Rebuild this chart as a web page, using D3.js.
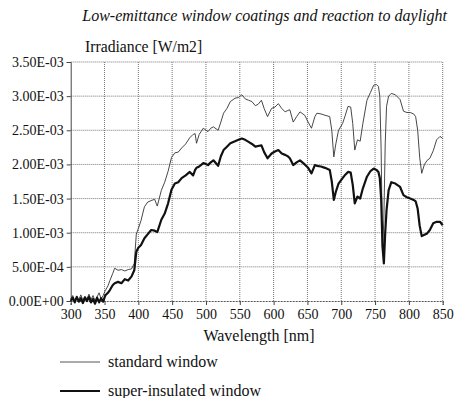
<!DOCTYPE html>
<html><head><meta charset="utf-8">
<script src="https://cdn.jsdelivr.net/npm/d3@7"></script>
<style>
body{margin:0;background:#fff;}
svg{display:block;}
</style></head>
<body>
<svg id="chart" width="458" height="398"></svg>
<script>
const titleText = "Low-emittance window coatings and reaction to daylight";
const yAxisTitle = "Irradiance [W/m2]";
const xAxisTitle = "Wavelength [nm]";
const seriesNames = ["standard window", "super-insulated window"];
const xTicks = [300,350,400,450,500,550,600,650,700,750,800,850];
const yTicks = [0,0.0005,0.001,0.0015,0.002,0.0025,0.003,0.0035];
const yTickLabels = ["0.00E+00","5.00E-04","1.00E-03","1.50E-03","2.00E-03","2.50E-03","3.00E-03","3.50E-03"];

// wavelength grid (nm)
const wavelength = [300,303,306,309,312,315,318,321,324,327,330,333,336,339,342,345,348,351,355,358,362,365,370,375,380,385,390,394,397,400,404,409,414,419,424,428,434,439,444,449,454,459,464,470,476,481,484,486,490,496,503,507,511,518,522,526,531,536,543,548,553,558,563,568,573,577,582,586,591,597,602,607,612,617,621,624,629,634,639,646,651,656,661,664,670,676,683,686,689,692,696,702,706,710,714,717,720,724,728,732,738,743,748,752,755,757,759,761,763,765,767,770,774,780,787,792,797,802,807,810,813,816,819,823,827,831,836,841,846,850];

// irradiance, units of 1E-03 W/m2
const standardWindow = [0.03,0.08,0.0,0.06,0.02,0.09,0.01,0.07,0.03,0.10,0.02,0.08,0.0,0.06,0.12,0.03,0.08,0.15,0.22,0.30,0.40,0.48,0.45,0.46,0.44,0.46,0.47,0.55,0.98,1.06,1.18,1.38,1.45,1.47,1.49,1.39,1.62,1.74,1.90,2.10,2.17,2.18,2.24,2.30,2.39,2.44,2.45,2.31,2.44,2.53,2.48,2.53,2.55,2.50,2.62,2.75,2.82,2.92,2.97,2.98,3.02,2.96,2.94,2.92,2.86,2.88,2.94,2.82,2.70,2.82,2.84,2.89,2.82,2.77,2.79,2.80,2.62,2.70,2.77,2.72,2.62,2.53,2.70,2.75,2.74,2.72,2.70,2.50,2.11,2.30,2.50,2.60,2.72,2.85,2.84,2.60,2.21,2.36,2.34,2.60,2.94,3.05,3.16,3.17,3.14,3.00,2.20,0.70,1.20,2.30,2.85,3.00,3.04,3.02,2.95,2.78,2.76,2.76,2.74,2.70,2.50,2.10,1.87,2.00,2.06,2.09,2.20,2.36,2.41,2.38];
const superInsulated = [0.0,0.05,-0.02,0.06,-0.01,0.04,-0.03,0.05,0.0,0.06,-0.02,0.03,-0.04,0.05,-0.02,0.04,-0.01,0.08,0.12,0.16,0.23,0.26,0.28,0.26,0.32,0.30,0.36,0.45,0.72,0.78,0.82,0.92,0.98,1.04,1.03,1.01,1.19,1.28,1.43,1.63,1.72,1.74,1.80,1.84,1.89,1.84,1.92,1.95,1.97,2.02,1.99,2.03,2.06,1.98,2.12,2.21,2.26,2.31,2.34,2.36,2.38,2.36,2.33,2.30,2.26,2.27,2.28,2.18,2.09,2.16,2.19,2.21,2.16,2.14,2.12,2.09,1.99,2.03,2.06,2.00,1.95,1.87,1.99,1.98,1.97,1.95,1.92,1.75,1.48,1.60,1.72,1.80,1.85,1.89,1.88,1.70,1.43,1.53,1.50,1.65,1.82,1.90,1.94,1.92,1.89,1.80,1.50,0.80,0.55,1.00,1.33,1.62,1.74,1.72,1.67,1.55,1.52,1.50,1.48,1.46,1.35,1.10,0.95,0.97,0.99,1.04,1.14,1.16,1.16,1.11];

const FONT = '"Liberation Serif"';
const svg = d3.select("#chart");
const L = 70.7, R = 442.7, T = 62, B = 301;
const x = d3.scaleLinear().domain([300, 850]).range([L, R]);
const y = d3.scaleLinear().domain([0, 0.0035]).range([B, T]);

// title
svg.append("text").attr("x", 447).attr("y", 21).attr("text-anchor", "end")
  .style("font-family", FONT).style("font-style", "italic").style("font-size", "16px")
  .attr("fill", "#111").text(titleText);
svg.append("text").attr("x", 85).attr("y", 52).style("font-family", FONT).style("font-size", "15.7px")
  .attr("fill", "#111").text(yAxisTitle);

// grid
const grid = svg.append("g");
grid.selectAll("line.h").data(yTicks.slice(1)).join("line")
  .attr("x1", L).attr("x2", R).attr("y1", d => y(d)).attr("y2", d => y(d))
  .attr("stroke", "#777").attr("stroke-width", 1).attr("stroke-dasharray", "1,1");
grid.selectAll("line.v").data(xTicks.slice(1)).join("line")
  .attr("x1", d => x(d)).attr("x2", d => x(d)).attr("y1", T).attr("y2", B)
  .attr("stroke", "#777").attr("stroke-width", 1).attr("stroke-dasharray", "1,1");

// axes
const yAxis = d3.axisLeft(y).tickValues(yTicks).tickFormat((d, i) => yTickLabels[i]).tickSize(4).tickPadding(3);
const gy = svg.append("g").attr("transform", `translate(${L},0)`).call(yAxis);
gy.select(".domain").attr("stroke", "#444");
gy.selectAll("line").attr("stroke", "#444");
gy.selectAll("text").style("font-family", FONT).style("font-size", "14px").attr("fill", "#111");

const xAxis = d3.axisBottom(x).tickValues(xTicks).tickSize(4).tickPadding(4);
const gx = svg.append("g").attr("transform", `translate(0,${B})`).call(xAxis);
gx.select(".domain").attr("stroke", "#555").attr("stroke-dasharray", "2,1");
gx.selectAll("line").attr("stroke", "#444");
gx.selectAll("text").style("font-family", FONT).style("font-size", "14px").attr("fill", "#111");

svg.append("text").attr("x", 259).attr("y", 341).attr("text-anchor", "middle")
  .style("font-family", FONT).style("font-size", "16px").attr("fill", "#111").text(xAxisTitle);

// lines
const line = vals => d3.line().x((d, i) => x(wavelength[i])).y((d) => y(d / 1000))(vals);
svg.append("path").attr("d", line(standardWindow)).attr("fill", "none")
  .attr("stroke", "#333").attr("stroke-width", 0.9);
svg.append("path").attr("d", line(superInsulated)).attr("fill", "none")
  .attr("stroke", "#111").attr("stroke-width", 2.2).attr("stroke-linejoin", "round");

// legend
const legend = [{name: seriesNames[0], w: 0.9, c: "#444", yy: 362},
                {name: seriesNames[1], w: 2, c: "#111", yy: 391}];
legend.forEach(l => {
  svg.append("line").attr("x1", 60).attr("x2", 100).attr("y1", l.yy).attr("y2", l.yy)
    .attr("stroke", l.c).attr("stroke-width", l.w);
  svg.append("text").attr("x", 108).attr("y", l.yy + 5).style("font-family", FONT).style("font-size", "16px")
    .attr("fill", "#111").text(l.name);
});
</script>
</body></html>
